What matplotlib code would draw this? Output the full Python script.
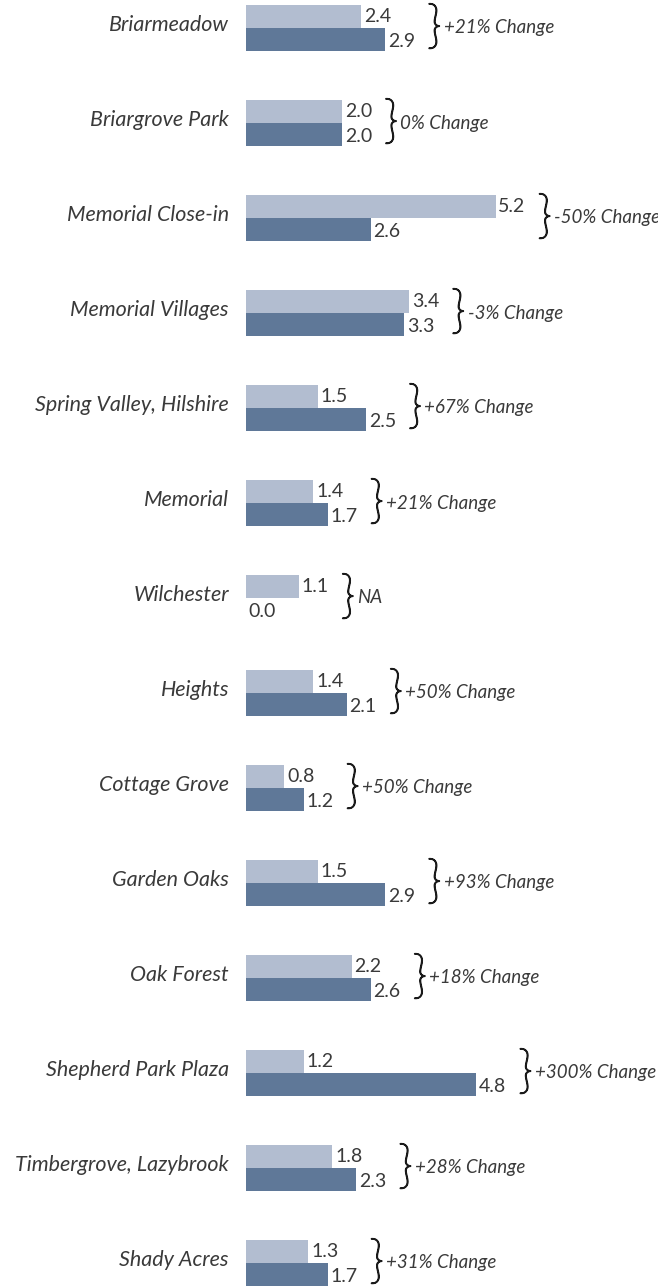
import matplotlib.pyplot as plt
import matplotlib.patheffects as pe
import numpy as np

# data
areas = ['Briarmeadow', 'Briargrove Park', 'Memorial Close-in', 'Memorial Villages',
         'Spring Valley, Hilshire', 'Memorial', 'Wilchester', 'Heights', 'Cottage Grove',
         'Garden Oaks', 'Oak Forest', 'Shepherd Park Plaza', 'Timbergrove, Lazybrook',
         'Shady Acres']
before = [2.4, 2.0, 5.2, 3.4, 1.5, 1.4, 1.1, 1.4, 0.8, 1.5, 2.2, 1.2, 1.8, 1.3]
after = [2.9, 2.0, 2.6, 3.3, 2.5, 1.7, 0.0, 2.1, 1.2, 2.9, 2.6, 4.8, 2.3, 1.7]
changes = ['+21% Change', '0% Change', '-50% Change', '-3% Change', '+67% Change',
           '+21% Change', 'NA', '+50% Change', '+50% Change', '+93% Change',
           '+18% Change', '+300% Change', '+28% Change', '+31% Change']

light = '#b2bdd0'
dark = '#5f7898'
txt = '#3a3a3a'
fam = ['Lato', 'DejaVu Sans']

W, H = 658, 1287
fig = plt.figure(figsize=(W / 100, H / 100), dpi=100)
ax = fig.add_axes([0, 0, 1, 1])

px = 48.0      # pixels per unit
x0 = 246       # pixel where bars start
pitch = 95.0   # row spacing in pixels
y0 = 28        # first row centre
ax.set_xlim(-x0 / px, (W - x0) / px)
ax.set_ylim((H - y0) / pitch, -y0 / pitch)
ax.axis('off')

bh = 23 / pitch
y = np.arange(len(areas))
ax.barh(y - bh / 2, before, height=bh, color=light)
ax.barh(y + bh / 2, after, height=bh, color=dark)

thick = [pe.withStroke(linewidth=1.1, foreground='#1a1a1a')]

for i in range(len(areas)):
    ax.text(-17 / px, y[i] - 0.03, areas[i], ha='right', va='center', fontsize=15.5,
            style='italic', color=txt, family=fam)
    ax.annotate(f'{before[i]:.1f}', (before[i], y[i] - bh / 2), xytext=(2, 0),
                textcoords='offset points', ha='left', va='center', fontsize=14,
                color=txt, family=fam)
    ax.annotate(f'{after[i]:.1f}', (after[i], y[i] + bh / 2 + 0.02), xytext=(2, 0),
                textcoords='offset points', ha='left', va='center', fontsize=14,
                color=txt, family=fam)
    m = max(before[i], after[i])
    ax.annotate('}', (m, y[i]), xytext=(30, 0), textcoords='offset points',
                ha='left', va='center', fontsize=37, fontweight='light',
                color='#1a1a1a', family=fam, path_effects=thick)
    ax.annotate(changes[i], (m, y[i]), xytext=(42, 0), textcoords='offset points',
                ha='left', va='center', fontsize=13.5, style='italic',
                color=txt, family=fam)

fig.savefig('out.png', dpi=100)
